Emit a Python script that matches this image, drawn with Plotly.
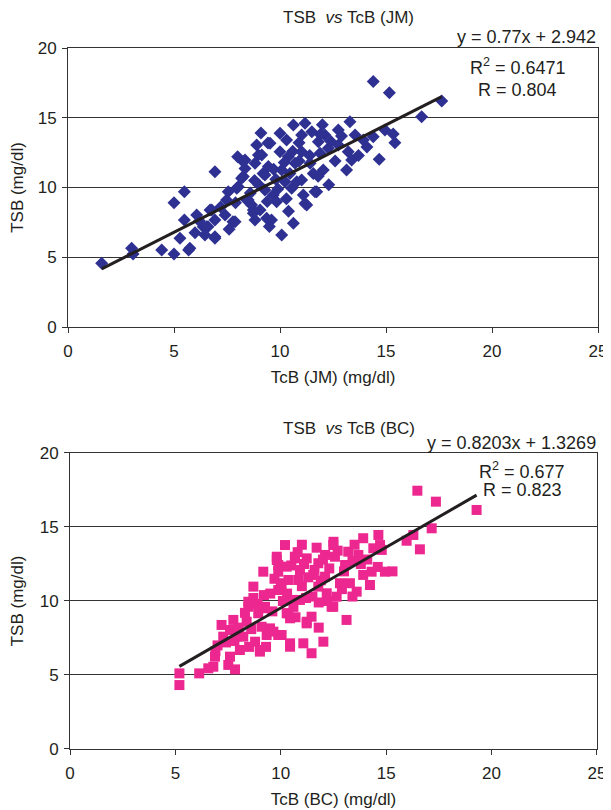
import plotly.graph_objects as go
from plotly.subplots import make_subplots

# ---------------- data: TSB vs TcB (JM) ----------------
jm_x = [1.59, 3.0, 3.07, 4.42, 5.0, 5.69, 5.28, 5.49, 5.0, 5.49, 6.07, 5.99, 6.38, 6.6, 6.70,
        6.93, 6.93, 7.41, 7.78, 6.93, 7.56, 7.96, 8.27, 8.35, 8.43, 8.74, 8.82, 8.9, 8.98, 9.2,
        9.29, 9.37, 9.43, 5.75, 6.46, 6.54, 6.78, 6.93, 7.48, 7.88, 8.03, 8.19, 8.27, 8.35, 8.5,
        8.66, 8.74, 8.82, 9.06, 9.14, 9.29, 9.45, 9.53, 9.6, 9.68, 9.84, 10.0, 10.0, 10.08, 10.08,
        10.24, 10.31, 10.39, 10.47, 10.55, 10.63, 10.63, 10.71, 10.79, 11.02, 11.02, 11.02, 11.1, 11.18, 11.26,
        11.42, 11.57, 11.73, 11.81, 11.89, 12.04, 12.12, 12.28, 12.75, 12.75, 13.14, 13.22, 14.4, 15.16, 17.63,
        16.68, 13.3, 14.95, 15.34, 15.42, 14.68, 14.4, 13.93, 13.54, 13.38, 11.65, 11.18, 9.5,
        9.0, 9.8, 10.2, 10.6, 9.7, 8.6, 10.9, 11.4, 12.4, 9.9, 8.8, 10.3, 11.8, 12.6, 7.2, 7.9,
        9.4, 10.9, 11.9, 12.9, 8.0, 9.1, 7.6, 6.2, 12.3, 13.7, 14.1, 12.0, 11.5, 10.4]
jm_y = [4.57, 5.64, 5.23, 5.52, 5.23, 5.52, 6.36, 7.67, 8.91, 9.70, 8.03, 6.76, 7.19, 7.19, 8.39,
        7.67, 6.47, 8.03, 7.55, 11.13, 9.70, 9.94, 10.78, 11.97, 9.10, 8.39, 7.67, 13.05, 12.33, 11.0,
        9.82, 7.79, 13.19, 5.64, 6.6, 7.19, 8.39, 6.36, 9.1, 7.55, 10.06, 10.66, 11.85, 11.37, 9.1,
        8.75, 8.15, 11.73, 8.39, 12.33, 10.9, 11.5, 13.17, 7.67, 9.46, 8.98, 13.88, 12.57, 11.25, 6.59,
        10.42, 13.4, 12.2, 11.0, 9.94, 7.43, 14.48, 11.73, 10.42, 13.76, 12.57, 10.54, 9.46, 14.6, 8.75,
        11.73, 11.0, 9.70, 13.28, 12.45, 11.25, 13.76, 12.81, 14.12, 13.05, 11.25, 12.57, 17.6, 16.8, 16.2,
        15.07, 14.72, 14.12, 13.83, 13.21, 12.02, 13.64, 13.4, 13.76, 11.97, 9.7, 8.86, 7.2,
        10.2, 10.6, 11.8, 12.6, 11.3, 9.6, 11.9, 12.3, 13.3, 9.9, 10.5, 9.2, 10.8, 11.9, 8.6, 8.9,
        9.0, 13.2, 13.8, 13.7, 12.2, 13.9, 7.0, 7.6, 10.2, 12.3, 12.9, 14.5, 14.0, 8.3]
jm_slope, jm_intercept = 0.77, 2.942
jm_eq = "y = 0.77x + 2.942"
jm_r2 = "R<sup>2</sup> = 0.6471"
jm_r = "R = 0.804"

# ---------------- data: TSB vs TcB (BC) ----------------
bc_x = [5.19, 5.19, 6.13, 6.56, 6.8, 6.88, 7.83, 7.51, 7.19, 7.27, 7.59, 7.75, 8.06, 8.22, 8.46,
        8.7, 8.38, 8.78, 8.93, 9.01, 9.17, 9.25, 9.33, 9.65, 9.81, 9.88, 10.04, 10.2, 10.28, 10.36,
        10.44, 10.52, 10.67, 10.83, 9.81, 9.88, 10.67, 9.88, 10.36, 10.91, 11.23, 10.91, 10.28, 10.44, 11.23,
        11.46, 10.44, 11.07, 11.46, 12.02, 13.12, 11.54, 11.78, 11.78, 12.1, 12.1, 12.18, 12.49, 12.41, 12.57,
        12.65, 12.81, 13.05, 13.2, 13.28, 13.6, 13.68, 13.91, 13.91, 14.23, 14.31, 14.39, 14.63, 14.94, 14.71,
        7.59, 8.46, 9.25, 9.09, 9.49, 9.88, 9.01, 16.48, 17.36, 19.29, 17.16, 16.29, 16.6, 15.97, 14.79,
        10.04, 11.23, 12.49,
        8.0, 8.6, 7.4, 7.0, 6.9, 7.9, 8.3, 9.5, 9.7, 10.0, 10.5, 10.8, 11.0, 11.3, 11.6, 11.1, 11.9,
        12.3, 12.7, 13.0, 13.4, 13.8, 14.1, 12.9, 11.5, 10.6, 10.1, 9.6, 11.8, 12.2, 13.4, 11.0, 11.7,
        12.5, 13.5, 8.9, 9.2, 10.3, 11.2, 12.0, 7.8, 8.5, 9.3, 8.7, 10.7, 11.8, 14.6, 15.3]
bc_y = [5.11, 4.32, 5.11, 5.45, 5.56, 6.24, 5.38, 5.68, 8.38, 7.59, 6.24, 8.72, 6.69, 7.59, 9.61,
        10.97, 8.6, 7.25, 9.17, 6.69, 11.98, 9.51, 7.7, 7.93, 12.77, 11.98, 10.74, 13.78, 12.32, 9.17,
        7.14, 10.07, 12.99, 11.42, 12.99, 12.43, 12.88, 10.74, 11.42, 12.09, 12.88, 10.07, 9.17, 8.83, 8.49,
        8.94, 6.91, 7.14, 6.47, 7.25, 8.72, 11.76, 10.97, 12.55, 13.11, 11.64, 10.52, 13.78, 9.61, 12.99,
        10.29, 11.2, 12.43, 13.33, 11.2, 10.63, 13.11, 14.24, 11.76, 11.08, 11.98, 13.56, 14.46, 11.98, 13.78,
        8.04, 9.95, 9.61, 8.26, 8.15, 7.7, 6.58, 17.45, 16.71, 16.15, 14.91, 14.46, 13.49, 14.07, 13.45,
        7.7, 8.6, 9.61,
        8.2, 8.1, 7.2, 7.0, 6.6, 7.6, 9.2, 10.5, 11.5, 11.2, 12.4, 13.3, 11.0, 11.6, 12.1, 12.5, 11.4,
        12.2, 13.4, 12.0, 12.7, 12.5, 12.8, 10.8, 10.3, 9.6, 10.0, 9.3, 9.9, 10.0, 10.3, 13.8, 13.6,
        14.0, 13.8, 9.8, 10.4, 10.5, 10.2, 12.8, 7.3, 6.9, 6.9, 10.2, 8.9, 8.2, 12.3, 12.0]
bc_slope, bc_intercept = 0.8203, 1.3269
bc_eq = "y = 0.8203x + 1.3269"
bc_r2 = "R<sup>2</sup> = 0.677"
bc_r = "R = 0.823"

x_ticks = [0, 5, 10, 15, 20, 25]
y_ticks = [0, 5, 10, 15, 20]

FONT = "Liberation Sans, Arial, sans-serif"
TXT = "#231f20"

fig = make_subplots(rows=2, cols=1, vertical_spacing=0.18)

def trend(xs, m, b):
    x0, x1 = min(xs), max(xs)
    return [x0, x1], [m * x0 + b, m * x1 + b]

fig.add_trace(go.Scatter(x=jm_x, y=jm_y, mode="markers",
                         marker=dict(symbol="diamond", size=10, color="#2e3192",
                                     line=dict(width=0)),
                         showlegend=False), row=1, col=1)
tx, ty = trend(jm_x, jm_slope, jm_intercept)
fig.add_trace(go.Scatter(x=tx, y=ty, mode="lines", line=dict(color=TXT, width=3),
                         showlegend=False), row=1, col=1)

fig.add_trace(go.Scatter(x=bc_x, y=bc_y, mode="markers",
                         marker=dict(symbol="square", size=10, color="#ec2890",
                                     line=dict(width=0)),
                         showlegend=False), row=2, col=1)
tx, ty = trend(bc_x, bc_slope, bc_intercept)
fig.add_trace(go.Scatter(x=tx, y=ty, mode="lines", line=dict(color=TXT, width=3),
                         showlegend=False), row=2, col=1)

axis_common = dict(showline=True, linecolor="#333333", linewidth=1, mirror=True,
                   ticks="outside", ticklen=5, tickcolor="#333333", automargin=False,
                   tickfont=dict(family=FONT, size=17, color=TXT), zeroline=False)

fig.update_xaxes(range=[0, 25], tickvals=x_ticks, showgrid=False, ticklabelstandoff=4,
                 **axis_common)
fig.update_yaxes(range=[0, 20], tickvals=y_ticks, showgrid=True, gridcolor="#333333",
                 gridwidth=1, ticklabelstandoff=2, **axis_common)

title_font = dict(family=FONT, size=17, color=TXT)
fig.update_xaxes(domain=[0, 1], row=1, col=1,
                 title=dict(text="TcB (JM) (mg/dl)", font=title_font, standoff=10))
fig.update_xaxes(domain=[0.0038, 0.998], row=2, col=1,
                 title=dict(text="TcB (BC) (mg/dl)", font=title_font, standoff=10))
fig.update_yaxes(domain=[0.602, 1.0], row=1, col=1,
                 title=dict(text="TSB (mg/dl)", font=title_font, standoff=14))
fig.update_yaxes(domain=[0.0, 0.4223], row=2, col=1,
                 title=dict(text="TSB (mg/dl)", font=title_font, standoff=14))

ann = []
def add_text(text, x, y, xanchor="center", size=18):
    ann.append(dict(text=text, x=x, y=y, xref="paper", yref="paper", showarrow=False,
                    xanchor=xanchor, yanchor="middle",
                    font=dict(family=FONT, size=size, color=TXT)))

add_text("TSB  <i>vs</i> TcB (JM)", 0.53, 1.0428, size=17)
add_text(jm_eq, 1.0, 1.0157, xanchor="right")
add_text(jm_r2, 0.849, 0.973)
add_text(jm_r, 0.849, 0.940)
add_text("TSB  <i>vs</i> TcB (BC)", 0.53, 0.4565, size=17)
add_text(bc_eq, 1.0, 0.4365, xanchor="right")
add_text(bc_r2, 0.857, 0.398)
add_text(bc_r, 0.857, 0.369)

fig.update_layout(width=603, height=802, margin=dict(l=60, r=13, t=40, b=61),
                  paper_bgcolor="white", plot_bgcolor="white", annotations=ann,
                  font=dict(family=FONT, color=TXT))

fig.write_html("out.html")
